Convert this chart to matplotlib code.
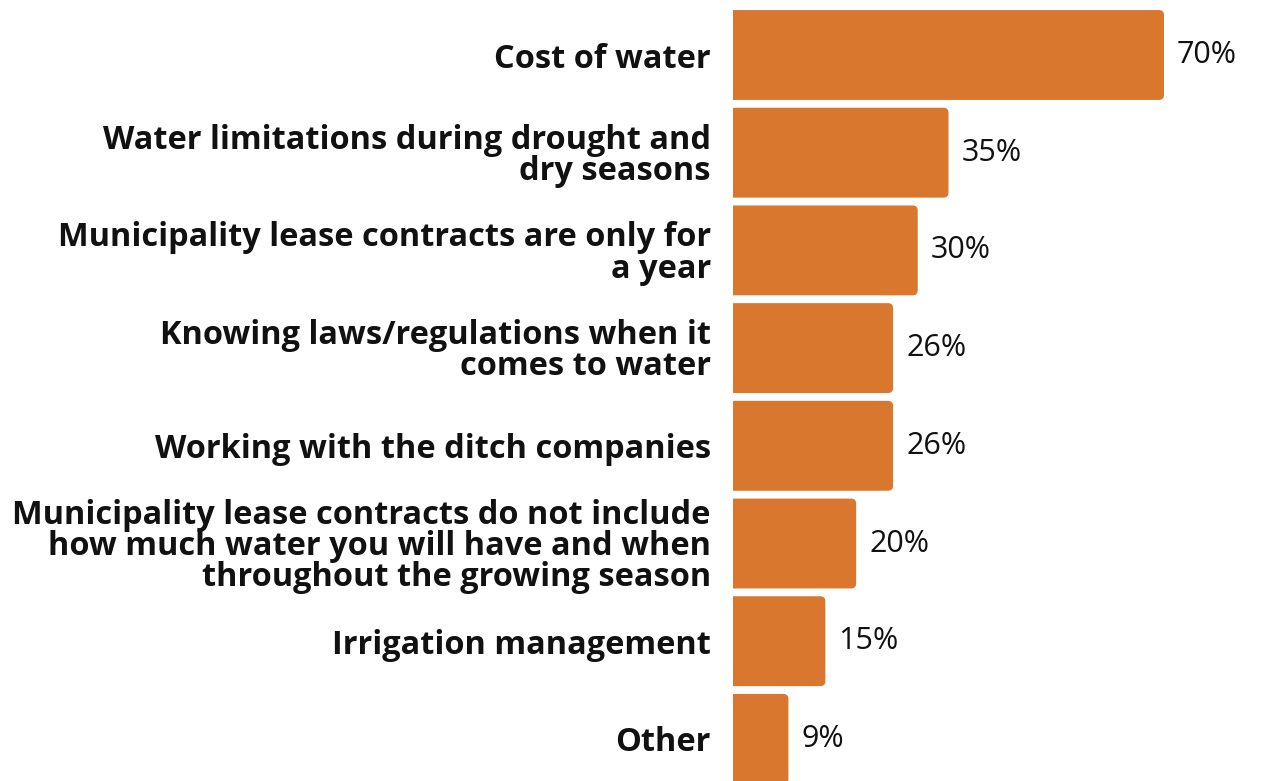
import matplotlib
matplotlib.use("Agg")
import matplotlib.pyplot as plt
from matplotlib.patches import FancyBboxPatch

categories = [
    "Cost of water",
    "Water limitations during drought and\ndry seasons",
    "Municipality lease contracts are only for\na year",
    "Knowing laws/regulations when it\ncomes to water",
    "Working with the ditch companies",
    "Municipality lease contracts do not include\nhow much water you will have and when\nthroughout the growing season",
    "Irrigation management",
    "Other",
]
values = [70, 35, 30, 26, 26, 20, 15, 9]
value_labels = ["70%", "35%", "30%", "26%", "26%", "20%", "15%", "9%"]

BAR_COLOR = "#D9772F"
W, H, DPI = 1262, 781, 100

fig = plt.figure(figsize=(W / DPI, H / DPI), dpi=DPI)
ax_left = 733 / W
ax = fig.add_axes([ax_left, 0.0, 1 - ax_left, 1.0])

xmax = 70 * (W - 733) / (1164 - 733)
ax.set_xlim(0, xmax)
pitch_px = 97.7
top = -55 / pitch_px
bottom = (H - 55) / pitch_px
ax.set_ylim(bottom, top)

bar_h = 0.92
ypos = list(range(len(values)))
bars = ax.barh(ypos, values, height=bar_h, color=BAR_COLOR, alpha=0)

# rounded corners: radius expressed in pixels, converted to data units
px_x = (W - 733) / xmax
r_px = 5
r_x = r_px / px_x
aspect = (r_px / pitch_px) / r_x
for rect in bars:
    x0, y0 = rect.get_x(), rect.get_y()
    w, h = rect.get_width(), rect.get_height()
    patch = FancyBboxPatch((x0 - 2, y0), w + 2, h,
                           boxstyle=f"round,pad=0,rounding_size={r_x}",
                           mutation_aspect=aspect,
                           facecolor=BAR_COLOR, edgecolor="none")
    ax.add_patch(patch)

for y, v, lab in zip(ypos, values, value_labels):
    ax.annotate(lab, (v, y), xytext=(13, 0), textcoords="offset pixels",
                ha="left", va="center", fontsize=22, family="Open Sans",
                color="#111111")

ax.set_yticks(ypos)
ax.set_yticklabels(categories, fontsize=23.4, fontweight="bold",
                   family="Open Sans", linespacing=0.93, color="#111111")
ax.tick_params(axis="y", length=0, pad=16)
ax.set_xticks([])
for s in ax.spines.values():
    s.set_visible(False)

fig.savefig("out.png", dpi=DPI)
